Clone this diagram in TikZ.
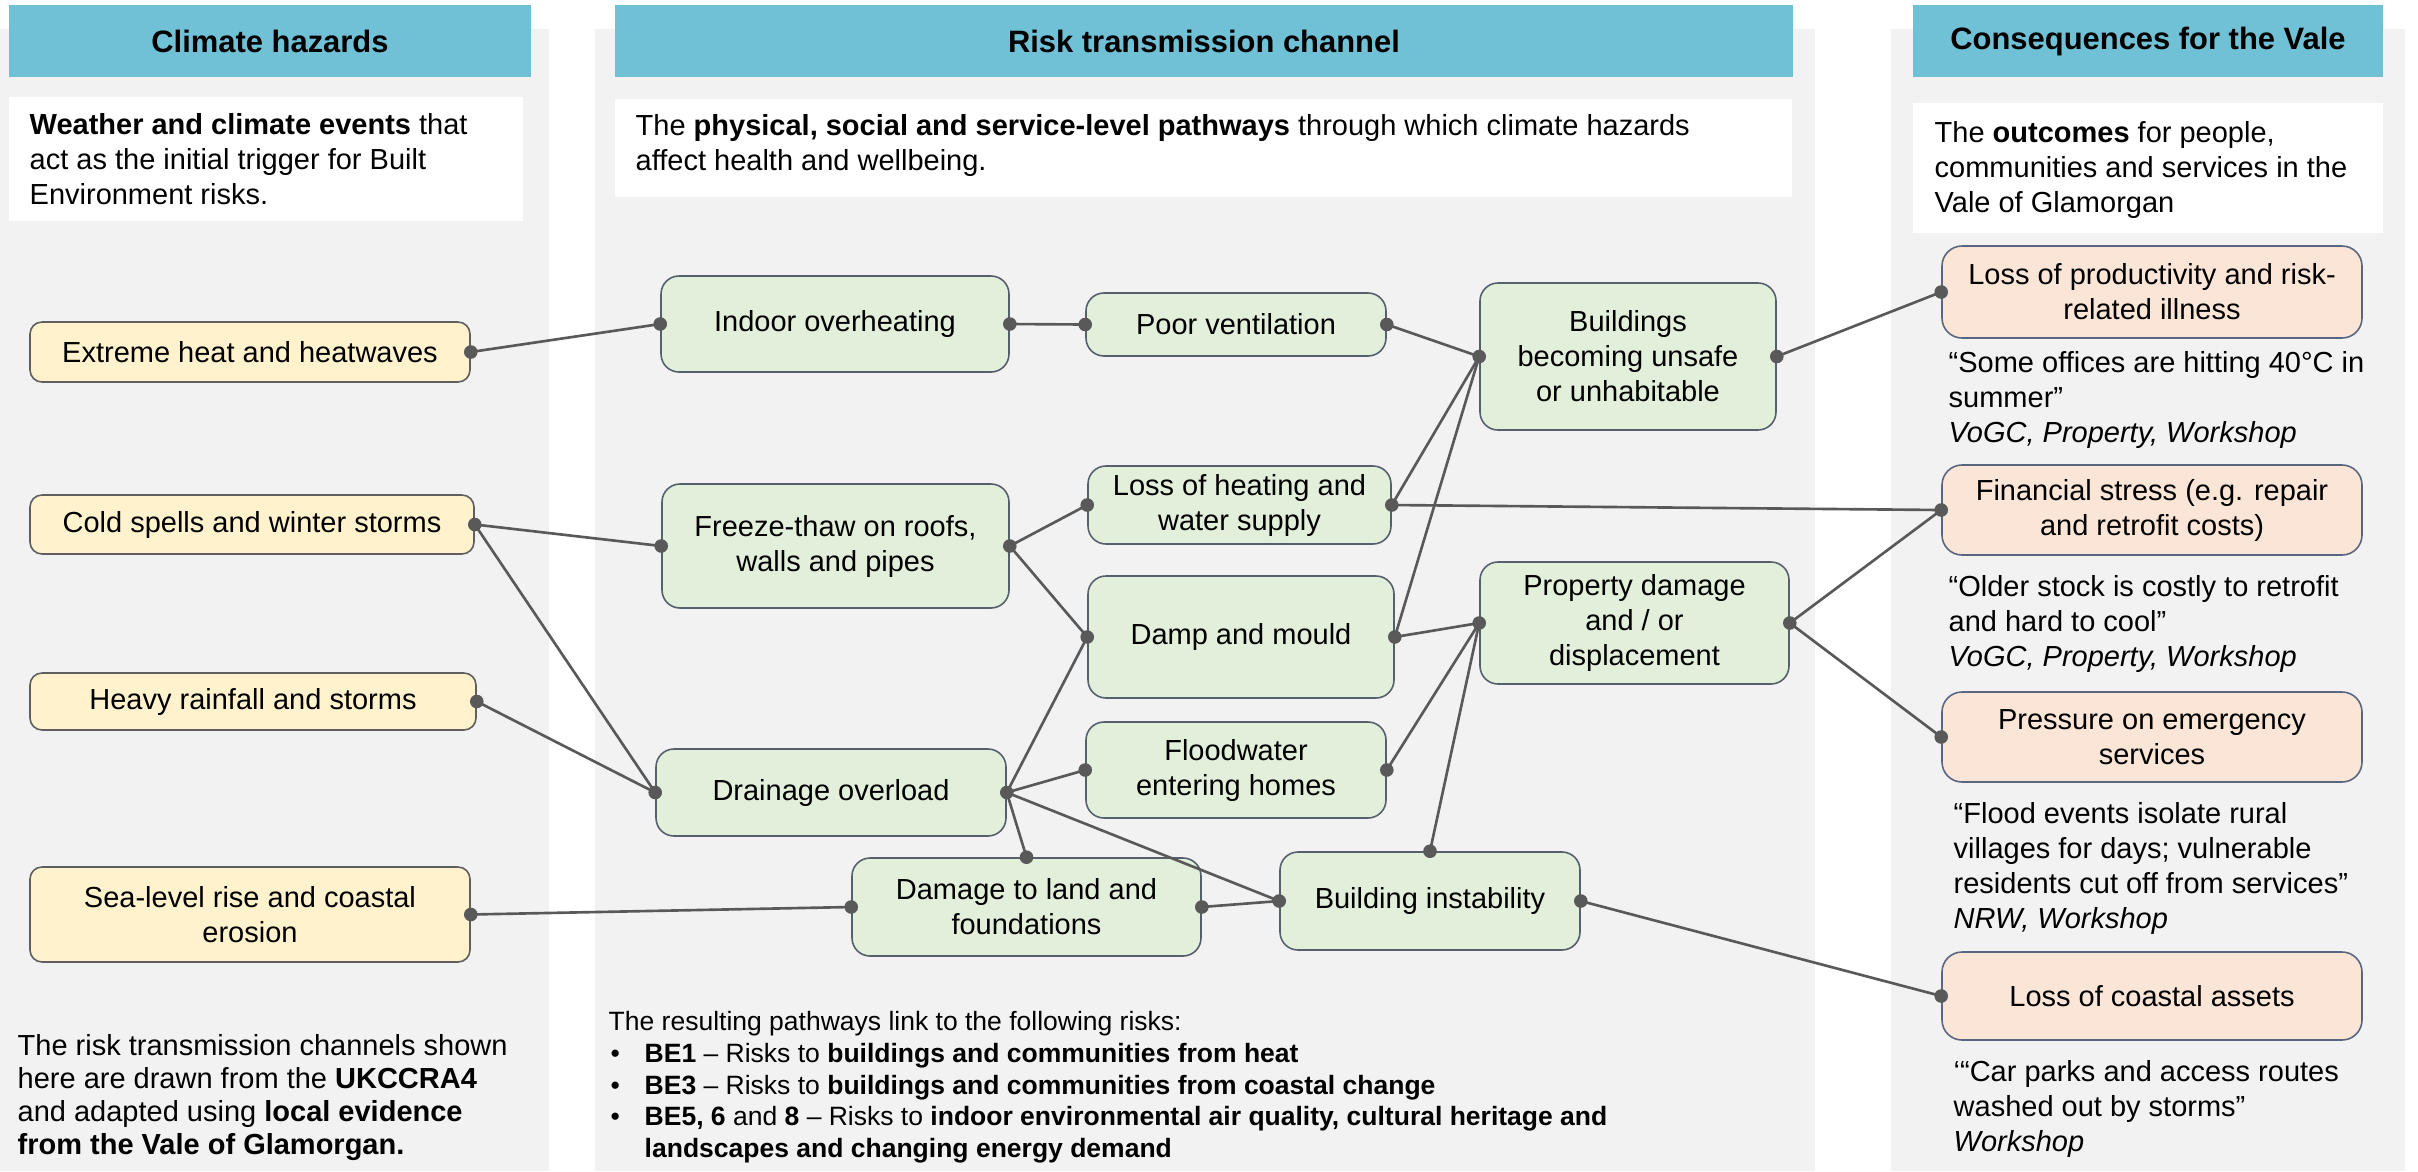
\documentclass[tikz,border=0pt]{standalone}
\usepackage{fontspec}
\setmainfont{Liberation Sans}
\definecolor{panelgray}{HTML}{F2F2F2}
\definecolor{headblue}{HTML}{70C1D6}
\definecolor{hzfill}{HTML}{FFF2CC}
\definecolor{hzline}{HTML}{5F5F5F}
\definecolor{midfill}{HTML}{E2EFDA}
\definecolor{midline}{HTML}{56606C}
\definecolor{csqfill}{HTML}{FBE5D6}
\definecolor{csqline}{HTML}{5A6680}
\definecolor{linkc}{HTML}{595959}
\newcommand{\fbody}{\fontsize{8.25pt}{9.96pt}\selectfont}
\newcommand{\fhead}{\fontsize{8.8pt}{10pt}\selectfont\bfseries}
\newcommand{\fnote}{\fontsize{8.25pt}{9.39pt}\selectfont}
\newcommand{\fsmall}{\fontsize{7.54pt}{9.0pt}\selectfont}
\begin{document}
\begin{tikzpicture}[x=1cm,y=-1cm,
  head/.style={fill=headblue, inner sep=0pt, font=\fhead},
  boxbase/.style={line width=0.45pt, align=center, font=\fbody, inner sep=0pt},
  hz/.style={boxbase, draw=hzline, fill=hzfill, rounded corners=0.12cm},
  mid/.style={boxbase, draw=midline, fill=midfill, rounded corners=0.18cm},
  csq/.style={boxbase, draw=csqline, fill=csqfill, rounded corners=0.2cm},
  conn/.style={draw=linkc, line width=0.75pt},
  para/.style={anchor=north west, inner sep=0pt, align=left, font=\fbody}]
\useasboundingbox (0,0) rectangle (24.18,11.71);

% column backgrounds
\fill[panelgray] (0,0.29) rectangle (5.49,11.71);
\fill[panelgray] (5.95,0.29) rectangle (18.15,11.71);
\fill[panelgray] (18.91,0.29) rectangle (24.05,11.71);

% column headers
\node[head, minimum width=5.22cm, minimum height=0.72cm] (hdL) at (2.70,0.41) {Climate hazards};
\node[head, minimum width=11.78cm, minimum height=0.72cm] (hdM) at (12.04,0.41) {Risk transmission channel};
\node[head, minimum width=4.70cm, minimum height=0.72cm] (hdR) at (21.48,0.41) {Consequences for the Vale};

% description panels
\fill[white] (0.09,0.97) rectangle (5.23,2.21);
\fill[white] (6.15,0.99) rectangle (17.92,1.97);
\fill[white] (19.13,1.03) rectangle (23.83,2.33);
\node[para] (dscL) at (0.29,1.089) {\strut\textbf{Weather and climate events} that\\act as the initial trigger for Built\\Environment risks.};
\node[para] (dscM) at (6.35,1.104) {\strut The \textbf{physical, social and service-level pathways} through which climate hazards\\affect health and wellbeing.};
\node[para] (dscR) at (19.34,1.174) {\strut The \textbf{outcomes} for people,\\communities and services in the\\Vale of Glamorgan};

% climate hazards
\node[hz, minimum width=4.40cm, minimum height=0.60cm] (hz1) at (2.50,3.52) {Extreme heat and heatwaves};
\node[hz, minimum width=4.44cm, minimum height=0.59cm] (hz2) at (2.52,5.245) {Cold spells and winter storms};
\node[hz, minimum width=4.46cm, minimum height=0.57cm] (hz3) at (2.53,7.015) {Heavy rainfall and storms};
\node[hz, minimum width=4.40cm, minimum height=0.95cm] (hz4) at (2.50,9.145) {Sea-level rise and coastal\\erosion};

% transmission channels
\node[mid, minimum width=3.48cm, minimum height=0.96cm] (io) at (8.35,3.24) {Indoor overheating};
\node[mid, minimum width=3.00cm, minimum height=0.63cm] (pv) at (12.36,3.245) {Poor ventilation};
\node[mid, minimum width=2.96cm, minimum height=1.47cm] (bu) at (16.28,3.565) {Buildings\\becoming unsafe\\or unhabitable};
\node[mid, minimum width=3.47cm, minimum height=1.24cm] (ft) at (8.355,5.46) {Freeze-thaw on roofs,\\walls and pipes};
\node[mid, minimum width=3.03cm, minimum height=0.78cm] (lh) at (12.395,5.05) {Loss of heating and\\water supply};
\node[mid, minimum width=3.06cm, minimum height=1.22cm] (dm) at (12.41,6.37) {Damp and mould};
\node[mid, minimum width=3.09cm, minimum height=1.22cm] (pd) at (16.345,6.23) {Property damage\\and / or\\displacement};
\node[mid, minimum width=3.50cm, minimum height=0.87cm] (do) at (8.31,7.925) {Drainage overload};
\node[mid, minimum width=3.00cm, minimum height=0.96cm] (fw) at (12.36,7.70) {Floodwater\\entering homes};
\node[mid, minimum width=3.49cm, minimum height=0.98cm] (dl) at (10.265,9.07) {Damage to land and\\foundations};
\node[mid, minimum width=3.00cm, minimum height=0.98cm] (bi) at (14.30,9.01) {Building instability};

% consequences
\node[csq, minimum width=4.20cm, minimum height=0.92cm] (c1) at (21.52,2.92) {Loss of productivity and risk-\\related illness};
\node[csq, minimum width=4.20cm, minimum height=0.90cm] (c2) at (21.52,5.10) {Financial stress (e.g. repair\\and retrofit costs)};
\node[csq, minimum width=4.20cm, minimum height=0.90cm] (c3) at (21.52,7.37) {Pressure on emergency\\services};
\node[csq, minimum width=4.20cm, minimum height=0.88cm] (c4) at (21.52,9.96) {Loss of coastal assets};

% evidence quotes
\node[para] (q1) at (19.48,3.474) {\strut “Some offices are hitting 40°C in\\summer”\\\textit{VoGC, Property, Workshop}};
\node[para] (q2) at (19.48,5.714) {\strut “Older stock is costly to retrofit\\and hard to cool”\\\textit{VoGC, Property, Workshop}};
\node[para] (q3) at (19.53,7.984) {\strut “Flood events isolate rural\\villages for days; vulnerable\\residents cut off from services”\\\textit{NRW, Workshop}};
\node[para] (q4) at (19.53,10.564) {\strut ‘“Car parks and access routes\\washed out by storms”\\\textit{Workshop}};

% footnotes
\node[para, font=\fnote] (srcL) at (0.17,10.318) {\strut The risk transmission channels shown\\here are drawn from the \textbf{UKCCRA4}\\and adapted using \textbf{local evidence}\\\textbf{from the Vale of Glamorgan.}};
\node[para, font=\fsmall] (riskM) at (6.08,10.08) {\strut The resulting pathways link to the following risks:\\
\makebox[0.36cm][l]{\hspace{0.02cm}•}\textbf{BE1} – Risks to \textbf{buildings and communities from heat}\\
\makebox[0.36cm][l]{\hspace{0.02cm}•}\textbf{BE3} – Risks to \textbf{buildings and communities from coastal change}\\
\makebox[0.36cm][l]{\hspace{0.02cm}•}\textbf{BE5, 6} and \textbf{8} – Risks to \textbf{indoor environmental air quality, cultural heritage and}\\
\hspace*{0.36cm}\textbf{landscapes and changing energy demand}};

% pathways
\draw[conn] (hz1.east) -- (io.west);
\draw[conn] (hz2.east) -- (ft.west);
\draw[conn] (hz2.east) -- (do.west);
\draw[conn] (hz3.east) -- (do.west);
\draw[conn] (hz4.east) -- (dl.west);
\draw[conn] (io.east) -- (pv.west);
\draw[conn] (pv.east) -- (bu.west);
\draw[conn] (ft.east) -- (lh.west);
\draw[conn] (ft.east) -- (dm.west);
\draw[conn] (lh.east) -- (bu.west);
\draw[conn] (lh.east) -- (c2.west);
\draw[conn] (dm.east) -- (bu.west);
\draw[conn] (dm.east) -- (pd.west);
\draw[conn] (do.east) -- (dm.west);
\draw[conn] (do.east) -- (fw.west);
\draw[conn] (do.east) -- (dl.north);
\draw[conn] (do.east) -- (bi.west);
\draw[conn] (fw.east) -- (pd.west);
\draw[conn] (dl.east) -- (bi.west);
\draw[conn] (bi.north) -- (pd.west);
\draw[conn] (bu.east) -- (c1.west);
\draw[conn] (pd.east) -- (c2.west);
\draw[conn] (pd.east) -- (c3.west);
\draw[conn] (bi.east) -- (c4.west);

% connector end points
\foreach \p in {hz1.east,hz2.east,hz3.east,hz4.east,io.west,io.east,pv.west,pv.east,
  bu.west,bu.east,ft.west,ft.east,lh.west,lh.east,dm.west,dm.east,pd.west,pd.east,
  do.west,do.east,fw.west,fw.east,dl.west,dl.east,dl.north,bi.west,bi.north,bi.east,
  c1.west,c2.west,c3.west,c4.west}
  \fill[linkc] (\p) circle (0.068cm);
\end{tikzpicture}
\end{document}
